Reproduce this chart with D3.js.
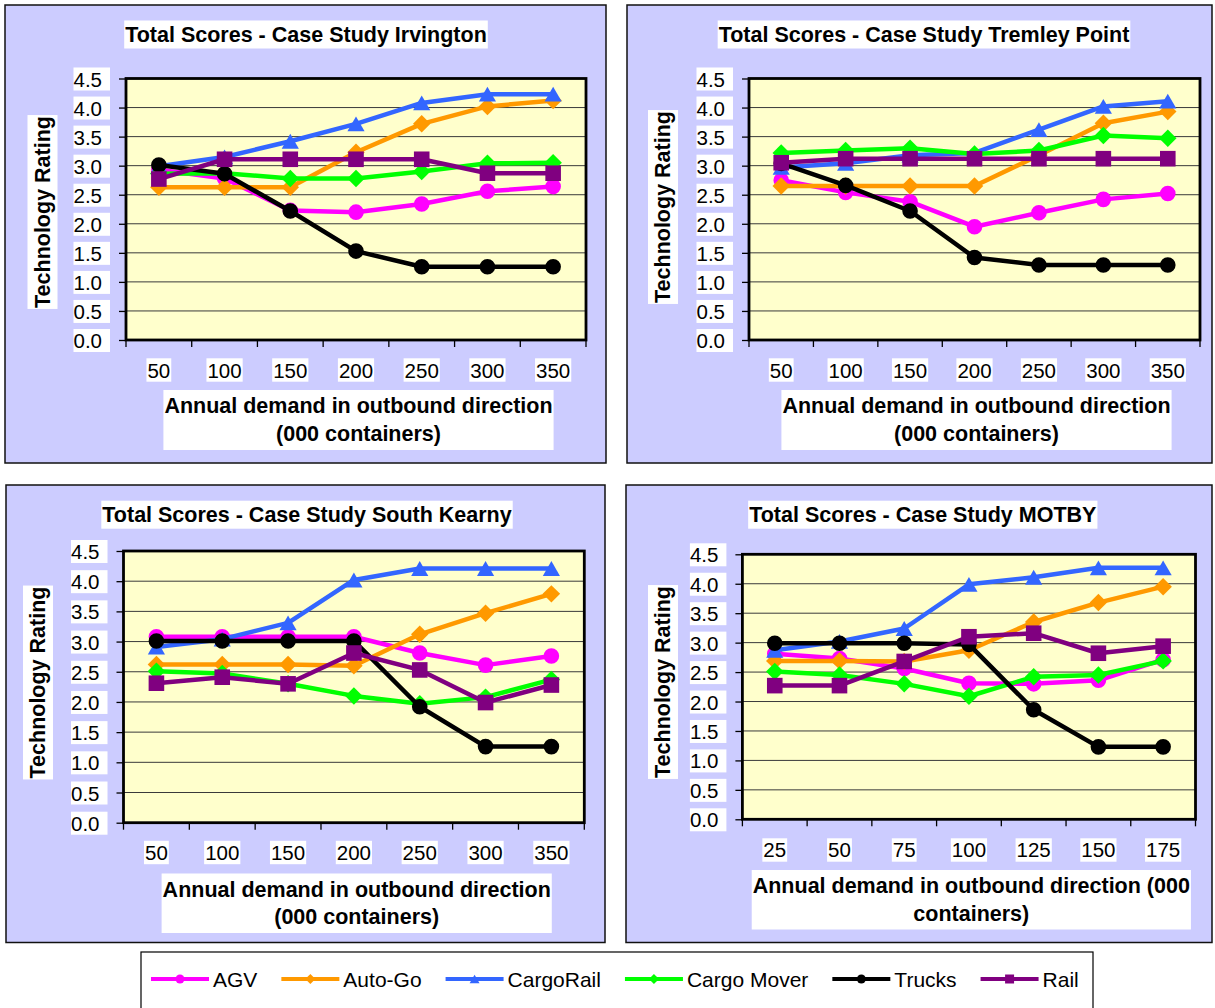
<!DOCTYPE html>
<html>
<head>
<meta charset="utf-8">
<script src="https://cdn.jsdelivr.net/npm/d3@7"></script>
<style>
  body { margin: 0; background: #fff; }
  svg { display: block; }
  text { font-family: "Liberation Sans", Arial, Helvetica, sans-serif; fill: #000; }
</style>
</head>
<body>
<svg id="chart" width="1215" height="1008"></svg>
<script>
// ---- data ----
const seriesNames = ["AGV", "Auto-Go", "CargoRail", "Cargo Mover", "Trucks", "Rail"];
const demandCategories = ["50", "100", "150", "200", "250", "300", "350"];
const motbyCategories = ["25", "50", "75", "100", "125", "150", "175"];
const ratingTicks = [0, 0.5, 1, 1.5, 2, 2.5, 3, 3.5, 4, 4.5];

// rows follow seriesNames order
const irvingtonScores = [
  [2.93, 2.78, 2.23, 2.20, 2.34, 2.56, 2.64],
  [2.63, 2.63, 2.63, 3.23, 3.72, 4.02, 4.12],
  [2.99, 3.15, 3.42, 3.72, 4.08, 4.23, 4.23],
  [2.86, 2.87, 2.78, 2.78, 2.90, 3.04, 3.05],
  [3.01, 2.86, 2.22, 1.53, 1.26, 1.26, 1.26],
  [2.77, 3.11, 3.11, 3.11, 3.11, 2.87, 2.87]
];
const tremleyScores = [
  [2.75, 2.54, 2.38, 1.95, 2.19, 2.42, 2.52],
  [2.65, 2.65, 2.65, 2.65, 3.18, 3.73, 3.93],
  [2.97, 3.04, 3.18, 3.22, 3.62, 4.02, 4.11],
  [3.22, 3.26, 3.30, 3.20, 3.26, 3.52, 3.47],
  [3.04, 2.66, 2.22, 1.42, 1.29, 1.29, 1.29],
  [3.05, 3.12, 3.12, 3.12, 3.12, 3.12, 3.12]
];
const southKearnyScores = [
  [3.08, 3.08, 3.08, 3.08, 2.81, 2.61, 2.76],
  [2.62, 2.62, 2.62, 2.60, 3.12, 3.47, 3.79],
  [2.91, 3.04, 3.31, 4.02, 4.21, 4.21, 4.21],
  [2.51, 2.47, 2.30, 2.10, 1.97, 2.08, 2.37],
  [3.01, 3.01, 3.01, 3.01, 1.92, 1.26, 1.26],
  [2.31, 2.41, 2.30, 2.81, 2.53, 1.99, 2.28]
];
const motbyScores = [
  [2.81, 2.73, 2.56, 2.31, 2.30, 2.36, 2.71],
  [2.69, 2.69, 2.68, 2.87, 3.35, 3.68, 3.95],
  [2.87, 3.02, 3.24, 3.99, 4.11, 4.27, 4.27],
  [2.51, 2.45, 2.30, 2.09, 2.42, 2.45, 2.69],
  [2.99, 2.99, 2.99, 2.97, 1.86, 1.23, 1.23],
  [2.27, 2.27, 2.68, 3.10, 3.16, 2.82, 2.94]
];

// ---- styling ----
const seriesColors = ["#FF00FF", "#FF9900", "#3366FF", "#00FF00", "#000000", "#800080"];
const seriesShapes = ["circle", "diamond", "triangle", "diamond", "circle", "square"];

const xTitleTwoLines = ["Annual demand in outbound direction", "(000 containers)"];
const xTitleMotby = ["Annual demand in outbound direction (000", "containers)"];

const panels = [
  { title: "Total Scores - Case Study Irvington", cats: demandCategories, scores: irvingtonScores,
    xTitle: xTitleTwoLines, box: [5, 5, 606, 463], plot: [126, 78.5, 586, 340],
    titleX: 306, titleY: 34.5, xLabelY: 370, xTitleX: 358.5, xTitleY: [406, 434], yTitleX: 42.5, yTitleY: 212 },
  { title: "Total Scores - Case Study Tremley Point", cats: demandCategories, scores: tremleyScores,
    xTitle: xTitleTwoLines, box: [627, 5, 1212, 463], plot: [749, 78.5, 1200, 340],
    titleX: 924, titleY: 34.5, xLabelY: 370, xTitleX: 976.5, xTitleY: [406, 434], yTitleX: 663, yTitleY: 207 },
  { title: "Total Scores - Case Study South Kearny", cats: demandCategories, scores: southKearnyScores,
    xTitle: xTitleTwoLines, box: [6, 485, 605, 942.5], plot: [123.5, 551, 584.3, 822.7],
    titleX: 307, titleY: 514.7, xLabelY: 852.5, xTitleX: 356.7, xTitleY: [889.5, 917], yTitleX: 38, yTitleY: 682.5 },
  { title: "Total Scores - Case Study MOTBY", cats: motbyCategories, scores: motbyScores,
    xTitle: xTitleMotby, box: [626, 485, 1212, 942.5], plot: [742.4, 554.3, 1195.5, 819.3],
    titleX: 922.8, titleY: 514.7, xLabelY: 850, xTitleX: 971.3, xTitleY: [886, 913.5], yTitleX: 663, yTitleY: 682 }
];

const svg = d3.select("#chart");
svg.append("rect").attr("width", 1215).attr("height", 1008).attr("fill", "#fff");

function markerPath(shape, s) {
  if (shape === "circle") return d3.symbol(d3.symbolCircle, Math.PI * s * s)();
  if (shape === "square") return `M${-s},${-s}H${s}V${s}H${-s}Z`;
  if (shape === "diamond") { const h = s * 1.12; return `M0,${-h}L${h},0L0,${h}L${-h},0Z`; }
  if (shape === "triangle") { const w = s * 1.1, h = s * 0.95; return `M0,${-h}L${w},${h}L${-w},${h}Z`; }
}

// white backing box behind a text element
function backBox(g, textSel, padX, padY, minH, extraRight) {
  const b = textSel.node().getBBox();
  const h = Math.max(b.height + 2 * padY, minH || 0);
  g.insert("rect", () => textSel.node())
    .attr("x", b.x - padX).attr("y", b.y + b.height / 2 - h / 2)
    .attr("width", b.width + 2 * padX + (extraRight || 0)).attr("height", h)
    .attr("fill", "#fff");
}

panels.forEach(p => {
  const g = svg.append("g");
  const [bx0, by0, bx1, by1] = p.box;
  const [px0, py0, px1, py1] = p.plot;

  g.append("rect").attr("x", bx0).attr("y", by0).attr("width", bx1 - bx0).attr("height", by1 - by0)
    .attr("fill", "#CCCCFF").attr("stroke", "#111").attr("stroke-width", 1.5);

  // title
  const tg = g.append("g");
  const tt = tg.append("text").attr("x", p.titleX).attr("y", p.titleY)
    .attr("text-anchor", "middle").attr("dominant-baseline", "central")
    .attr("font-size", 21.5).attr("font-weight", "bold").text(p.title);
  backBox(tg, tt, 1, 2, 27.6);

  const x = d3.scaleBand().domain(p.cats).range([px0, px1]);
  const y = d3.scaleLinear().domain([0, 4.5]).range([py1, py0]);

  // plot area
  g.append("rect").attr("x", px0).attr("y", py0).attr("width", px1 - px0).attr("height", py1 - py0)
    .attr("fill", "#FFFFCC");
  g.append("g").selectAll("line").data(ratingTicks.filter(t => t > 0 && t < 4.5)).join("line")
    .attr("x1", px0).attr("x2", px1).attr("y1", d => y(d)).attr("y2", d => y(d))
    .attr("stroke", "#3a3a3a").attr("stroke-width", 1);

  // y axis
  const yAxis = g.append("g").attr("transform", `translate(${px0},0)`)
    .call(d3.axisLeft(y).tickValues(ratingTicks).tickFormat(d3.format(".1f")).tickSize(7).tickPadding(17));
  yAxis.select(".domain").remove();
  yAxis.selectAll(".tick line").attr("stroke", "#000").attr("stroke-width", 1.3);
  yAxis.selectAll(".tick text").attr("font-size", 20.5).attr("font-family", null).attr("dy", null)
    .attr("dominant-baseline", "central").attr("fill", "#000");
  yAxis.selectAll(".tick").each(function () {
    const tk = d3.select(this);
    backBox(tk, tk.select("text"), 0, 0, 23, 8);
  });

  // x axis labels
  const xAxis = g.append("g").attr("transform", `translate(0,${py1})`)
    .call(d3.axisBottom(x).tickSize(0));
  xAxis.select(".domain").remove();
  xAxis.selectAll(".tick text").attr("font-size", 20.5).attr("font-family", null).attr("dy", null)
    .attr("y", p.xLabelY - py1).attr("dominant-baseline", "central").attr("fill", "#000");
  xAxis.selectAll(".tick").each(function () {
    const tk = d3.select(this);
    backBox(tk, tk.select("text"), 1, 0, 23.4);
  });
  // category boundary ticks
  const bounds = p.cats.map(c => x(c)).concat([x.range()[1]]);
  g.append("g").selectAll("line").data(bounds).join("line")
    .attr("x1", d => d).attr("x2", d => d).attr("y1", py1).attr("y2", py1 + 7)
    .attr("stroke", "#000").attr("stroke-width", 1.3);

  // plot frame
  g.append("rect").attr("x", px0).attr("y", py0).attr("width", px1 - px0).attr("height", py1 - py0)
    .attr("fill", "none").attr("stroke", "#000").attr("stroke-width", 2.8);

  // axis titles
  const xg = g.append("g");
  const xt = xg.append("text").attr("text-anchor", "middle").attr("font-size", 21.5).attr("font-weight", "bold");
  p.xTitle.forEach((line, i) => {
    xt.append("tspan").attr("x", p.xTitleX).attr("y", p.xTitleY[i]).attr("dominant-baseline", "central").text(line);
  });
  backBox(xg, xt, 1, 4);

  const yg = g.append("g").attr("transform", `translate(${p.yTitleX},${p.yTitleY}) rotate(-90)`);
  const yt = yg.append("text").attr("text-anchor", "middle").attr("dominant-baseline", "central")
    .attr("font-size", 21.5).attr("font-weight", "bold").text("Technology Rating");
  backBox(yg, yt, 1, 3);

  // series
  const cx = i => x(p.cats[i]) + x.bandwidth() / 2;
  const line = d3.line().x((d, i) => cx(i)).y(d => y(d));
  p.scores.forEach((vals, s) => {
    const sg = g.append("g");
    sg.append("path").attr("d", line(vals)).attr("fill", "none")
      .attr("stroke", seriesColors[s]).attr("stroke-width", 4.5).attr("stroke-linejoin", "round");
    sg.selectAll("path.m").data(vals).join("path").attr("class", "m")
      .attr("transform", (d, i) => `translate(${cx(i)},${y(d)})`)
      .attr("d", markerPath(seriesShapes[s], 7.8))
      .attr("fill", seriesColors[s]);
  });
});

// legend
const lg = svg.append("g");
lg.append("rect").attr("x", 141).attr("y", 952).attr("width", 952).attr("height", 80)
  .attr("fill", "#fff").attr("stroke", "#000").attr("stroke-width", 1.2);
let lx = 151;
const ly = 979;
seriesNames.forEach((name, s) => {
  lg.append("line").attr("x1", lx).attr("x2", lx + 58).attr("y1", ly).attr("y2", ly)
    .attr("stroke", seriesColors[s]).attr("stroke-width", 4);
  lg.append("path").attr("transform", `translate(${lx + 29},${ly})`)
    .attr("d", markerPath(seriesShapes[s], 4.5)).attr("fill", seriesColors[s]);
  const t = lg.append("text").attr("x", lx + 62).attr("y", ly).attr("dominant-baseline", "central")
    .attr("font-size", 21).text(name);
  lx += 62 + t.node().getComputedTextLength() + 24;
});
</script>
</body>
</html>
